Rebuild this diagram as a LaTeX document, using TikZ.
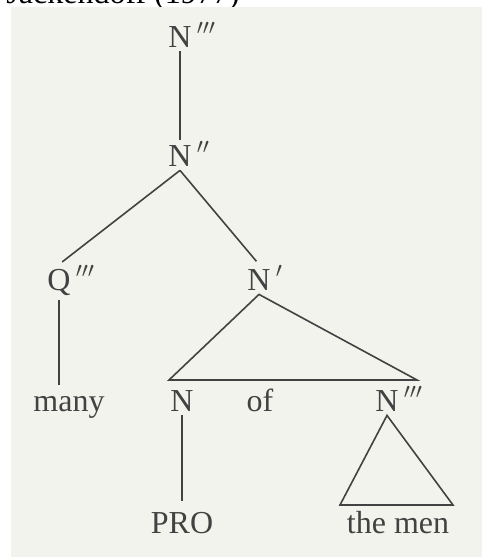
\documentclass[tikz,border=0pt]{standalone}
\usepackage{fontspec}
\setmainfont{Liberation Serif}
\usepackage{tikz}
\usetikzlibrary{positioning, calc}
\definecolor{Paper}{RGB}{243, 243, 238}
\definecolor{Ink}{RGB}{66, 66, 66}
% bar-level primes, hung to the right of the category letter
\newcommand{\barlevel}[1]{\rlap{\,$^{#1}$}}

\begin{document}
\begin{tikzpicture}[x=0.5pt, y=-0.5pt,
    cat/.style={font=\fontsize{16}{19}\selectfont, text=Ink, inner sep=2pt, text height=10.6pt, text depth=0pt, anchor=base},
    branch/.style={draw=Ink, line width=0.8pt}
]
    \useasboundingbox (0,0) rectangle (482,557);
    \clip (0,0) rectangle (482,557);

    \node [anchor=base east, inner sep=0pt, font=\fontsize{16}{19}\selectfont] (source) at (240,3.5) {Jackendoff (1977)};
    \fill [Paper] (11,7) rectangle (482,557);

    \node [cat] (top) at (180,47) {N\barlevel{\prime\prime\prime}};
    \node [cat] (nbar2) at (180,166) {N\barlevel{\prime\prime}};
    \node [cat] (qmax) at (59,290) {Q\barlevel{\prime\prime\prime}};
    \node [cat] (nbar1) at (259,290) {N\barlevel{\prime}};
    \node [cat] (many) at (69,411) {many};
    \node [cat] (nhead) at (182,411) {N};
    \node [cat] (of) at (260,411) {of};
    \node [cat] (nmax) at (387,411) {N\barlevel{\prime\prime\prime}};
    \node [cat] (pro) at (182,533) {PRO};
    \node [cat] (themen) at (398,533) {the men};

    \coordinate (base left) at (169,380);
    \coordinate (base right) at (417,380);
    \coordinate (roof left) at (340,505);
    \coordinate (roof right) at (453,505);

    \draw [branch] (top) -- (nbar2);
    \draw [branch, shorten >=2pt] (nbar2.south) -- (qmax.north);
    \draw [branch, shorten >=2pt] (nbar2.south) -- (nbar1.north);
    \draw [branch, shorten <=3pt] (qmax.south) -- (qmax.south |- many.north);
    \draw [branch] (nbar1.south) -- (base left) -- (base right) -- cycle;
    \draw [branch, shorten >=3pt] (nhead.south) -- (pro.north);
    \draw [branch] (nmax.south) -- (roof left) -- (roof right) -- cycle;
\end{tikzpicture}
\end{document}
